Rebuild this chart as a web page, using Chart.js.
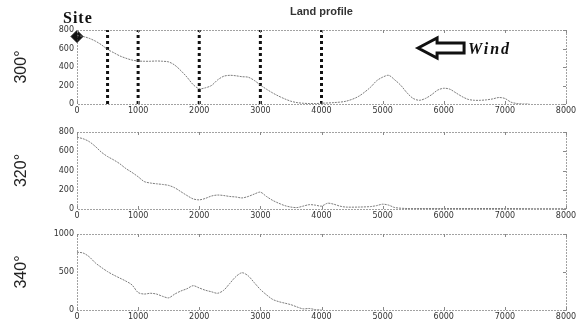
<!DOCTYPE html>
<html>
<head>
<meta charset="utf-8">
<script src="https://cdn.jsdelivr.net/npm/chart.js@4.4.0/dist/chart.umd.min.js"></script>
<style>
	body { margin: 0; background: #fff; }
	#wrap { position: relative; width: 583px; height: 324px; overflow: hidden; }
	canvas { position: absolute; left: 0; }
</style>
</head>
<body>
<div id="wrap">
	<canvas id="c300" width="583" height="120" style="top:0"></canvas>
	<canvas id="c320" width="583" height="104" style="top:120px"></canvas>
	<canvas id="c340" width="583" height="100" style="top:224px"></canvas>
</div>
<script>
// data (distance from site in m, elevation in m)
var dist300 = [0,100,200,300,400,500,600,700,800,900,1000,1100,1200,1300,1400,1500,1600,1700,1800,1900,2000,2100,2200,2300,2400,2500,2600,2700,2800,2900,3000,3100,3200,3300,3400,3500,3600,3700,3800,3900,4000,4200,4400,4600,4800,4900,5000,5100,5200,5300,5400,5500,5600,5700,5800,5900,6000,6100,6200,6300,6400,6500,6600,6700,6800,6900,7000,7100,7200,7300,7400];
var elev300 = [740,730,710,680,640,590,555,520,495,475,465,462,462,465,462,455,420,360,290,210,165,175,200,260,300,310,305,295,290,255,205,160,120,85,55,30,15,8,5,5,8,15,30,80,180,250,290,310,260,200,120,60,40,60,100,150,170,160,120,80,50,40,40,45,55,70,60,20,5,0,0];

var dist320 = [0,100,200,300,400,500,600,700,800,900,1000,1100,1200,1300,1400,1500,1600,1700,1800,1900,2000,2100,2200,2300,2400,2500,2600,2700,2800,2900,3000,3100,3200,3300,3400,3500,3600,3700,3800,3900,4000,4100,4200,4300,4400,4600,4800,4900,5000,5100,5200,5400,5600,6000,6500,7000,7500,8000];
var elev320 = [745,730,700,650,590,545,510,470,420,380,335,285,270,262,255,245,220,180,140,105,95,110,135,145,140,130,125,115,130,155,175,130,90,60,35,20,15,30,45,40,30,60,50,30,20,20,25,35,50,40,15,5,5,5,5,5,3,3];

var dist340 = [0,100,200,300,400,500,600,700,800,900,1000,1100,1200,1300,1400,1500,1600,1700,1800,1900,2000,2100,2200,2300,2400,2500,2600,2700,2800,2900,3000,3100,3200,3300,3400,3500,3600,3700,3800,3900,4000];
var elev340 = [760,750,700,620,560,505,460,420,380,330,230,210,220,210,180,160,210,250,280,320,290,260,240,220,260,350,440,490,450,360,270,200,140,110,90,70,40,15,20,5,0];

var xTicks = [0,1000,2000,3000,4000,5000,6000,7000,8000];
var cutDist = [500,1000,2000,3000,4000];
var site = [0, 730];

function toPoints(xs, ys) {
	var pts = [];
	for(var i=0; i<xs.length; i++) pts.push({x: xs[i], y: ys[i]});
	return pts;
}

// dotted frame + small inner ticks
var framePlugin = {
	id: "frame",
	afterDatasetsDraw: function(chart) {
		var a = chart.chartArea, c = chart.ctx;
		var xs = chart.scales.x, ys = chart.scales.y;
		c.save();
		c.strokeStyle = "#444";
		c.lineWidth = 1;
		c.setLineDash([1, 2]);
		c.strokeRect(a.left + 0.5, a.top + 0.5, a.right - a.left, a.bottom - a.top);
		c.setLineDash([]);
		c.strokeStyle = "#888";
		xs.ticks.forEach(function(t) {
			var px = Math.round(xs.getPixelForValue(t.value)) + 0.5;
			c.beginPath();
			c.moveTo(px, a.top); c.lineTo(px, a.top + 3);
			c.moveTo(px, a.bottom); c.lineTo(px, a.bottom - 3);
			c.stroke();
		});
		ys.ticks.forEach(function(t) {
			var py = Math.round(ys.getPixelForValue(t.value)) + 0.5;
			c.beginPath();
			c.moveTo(a.right, py); c.lineTo(a.right - 3, py);
			c.stroke();
		});
		c.restore();
	}
};

// labels of the top panel: Site, Land profile, wind arrow
var notePlugin = {
	id: "notes",
	afterDraw: function(chart) {
		var a = chart.chartArea, c = chart.ctx;
		var xs = chart.scales.x, ys = chart.scales.y;
		c.save();
		c.fillStyle = "#111";
		c.font = "bold 16px 'Liberation Serif'";
		c.textBaseline = "alphabetic";
		c.letterSpacing = "1px";
		c.fillText("Site", 63, 23);
		c.letterSpacing = "0px";
		c.font = "bold 11px 'Liberation Sans'";
		c.textAlign = "center";
		c.fillStyle = "#333";
		c.fillText("Land profile", (a.left + a.right) / 2, 15);
		// arrow, tip placed in data coords
		var tx = xs.getPixelForValue(5580), ty = ys.getPixelForValue(605);
		c.beginPath();
		c.moveTo(tx, ty);
		c.lineTo(tx + 19, ty - 10);
		c.lineTo(tx + 19, ty - 5);
		c.lineTo(tx + 46, ty - 5);
		c.lineTo(tx + 46, ty + 5);
		c.lineTo(tx + 19, ty + 5);
		c.lineTo(tx + 19, ty + 10);
		c.closePath();
		c.fillStyle = "#fff";
		c.fill();
		c.lineWidth = 3;
		c.lineJoin = "miter";
		c.strokeStyle = "#111";
		c.stroke();
		c.textAlign = "left";
		c.fillStyle = "#111";
		c.font = "italic bold 16px 'Liberation Serif'";
		c.letterSpacing = "2px";
		c.fillText("Wind", tx + 50, ty + 6);
		c.restore();
	}
};

function plainNum(v) { return String(v); }

function makePanel(id, pts, yMax, yStep, label, axisH, padTop, extra, plugins) {
	var sets = [{
		data: pts,
		showLine: true,
		pointRadius: 0,
		borderColor: "rgba(110,110,110,0.9)",
		borderWidth: 1,
		borderDash: [2, 1],
		tension: 0.3
	}].concat(extra);
	return new Chart(document.getElementById(id), {
		type: "scatter",
		data: { datasets: sets },
		options: {
			responsive: false,
			animation: false,
			devicePixelRatio: 1,
			layout: { padding: { top: padTop, right: 17, left: 0, bottom: 0 } },
			plugins: { legend: { display: false }, tooltip: { enabled: false } },
			scales: {
				x: {
					type: "linear", min: 0, max: 8000,
					afterBuildTicks: function(s) { s.ticks = xTicks.map(function(v) { return {value: v}; }); },
					ticks: { font: { family: "DejaVu Sans", size: 8 }, color: "#333", padding: 2, maxRotation: 0, callback: plainNum },
					grid: { display: false, drawTicks: false },
					border: { display: false },
					afterFit: function(s) { s.height = axisH; }
				},
				y: {
					min: 0, max: yMax,
					ticks: { stepSize: yStep, font: { family: "DejaVu Sans", size: 8 }, color: "#333", padding: 3, callback: plainNum },
					grid: { display: false, drawTicks: false },
					border: { display: false },
					title: { display: true, text: label, font: { family: "Liberation Sans", size: 16 }, color: "#222", padding: { top: 12, bottom: 0 } },
					afterFit: function(s) { s.width = 77; }
				}
			}
		},
		plugins: [framePlugin].concat(plugins || [])
	});
}

// cut lines + site marker for 300 deg
var extra300 = [];
cutDist.forEach(function(d) {
	extra300.push({
		data: [{x: d, y: 0}, {x: d, y: 800}],
		showLine: true,
		pointRadius: 0,
		borderColor: "#111",
		borderWidth: 3,
		borderDash: [3, 3]
	});
});
extra300.push({
	data: [{x: site[0], y: site[1]}],
	pointStyle: "rectRot",
	pointRadius: 6,
	backgroundColor: "#111",
	borderColor: "#111",
	clip: false
});

makePanel("c300", toPoints(dist300, elev300), 800, 200, "300°", 16, 30, extra300, [notePlugin]);
makePanel("c320", toPoints(dist320, elev320), 800, 200, "320°", 15, 12, []);
makePanel("c340", toPoints(dist340, elev340), 1000, 500, "340°", 14, 10, []);
</script>
</body>
</html>
